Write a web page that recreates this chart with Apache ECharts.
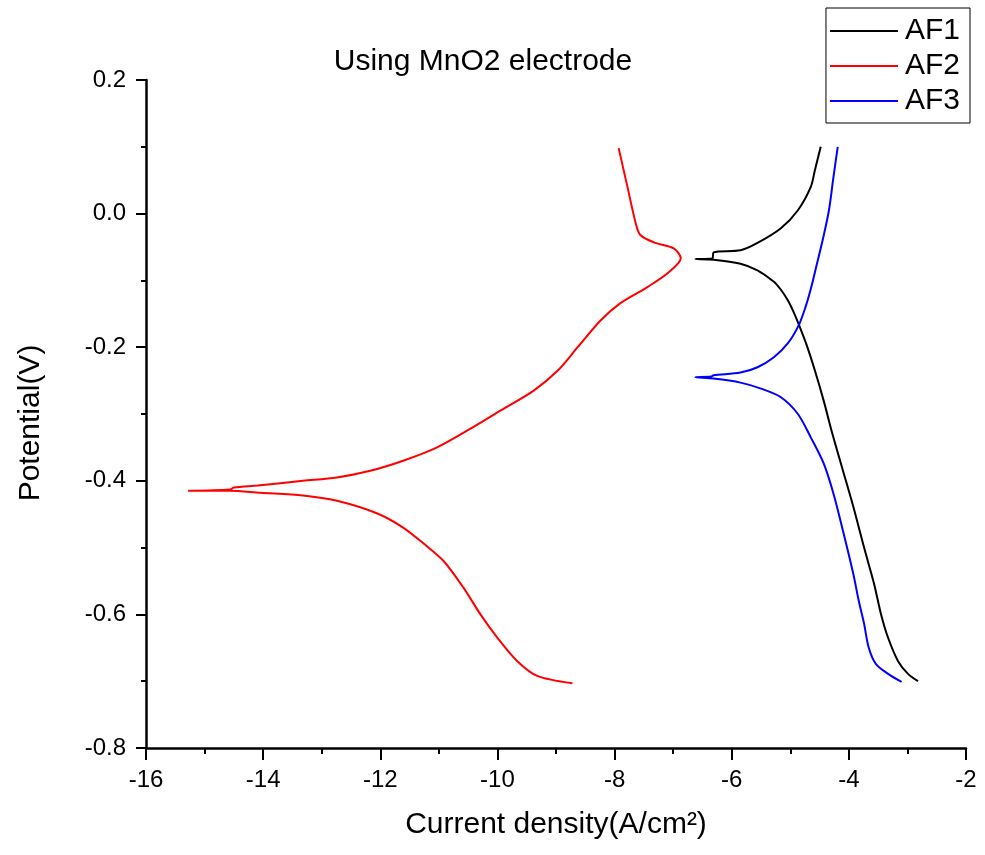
<!DOCTYPE html>
<html>
<head>
<meta charset="utf-8">
<script src="https://cdn.jsdelivr.net/npm/echarts@6/dist/echarts.min.js"></script>
<style>
html,body{margin:0;padding:0;background:#fff;}
#chart{width:985px;height:855px;}
</style>
</head>
<body>
<div id="chart"></div>
<script>
// Data: [current density (log A/cm2), potential (V)] in sweep order
var af1Data = [
  [-2.82,-0.700],[-2.99,-0.689],[-3.16,-0.670],[-3.33,-0.635],[-3.45,-0.600],[-3.57,-0.554],
  [-3.74,-0.500],[-3.92,-0.440],[-4.10,-0.385],[-4.28,-0.330],[-4.43,-0.280],[-4.58,-0.235],
  [-4.72,-0.197],[-4.85,-0.167],[-4.95,-0.146],[-5.04,-0.130],[-5.16,-0.114],[-5.28,-0.102],
  [-5.56,-0.085],[-5.85,-0.075],[-6.31,-0.069],[-6.62,-0.068],[-6.33,-0.067],[-6.31,-0.058],
  [-5.85,-0.055],[-5.56,-0.044],[-5.16,-0.022],[-4.87,0.005],[-4.65,0.040],[-4.58,0.065],
  [-4.48,0.100]
];
var af2Data = [
  [-8.72,-0.703],[-9.32,-0.692],[-9.66,-0.670],[-10.00,-0.635],[-10.29,-0.600],[-10.58,-0.560],
  [-10.92,-0.520],[-11.26,-0.494],[-11.61,-0.470],[-12.05,-0.449],[-12.74,-0.430],[-13.32,-0.422],
  [-14.05,-0.418],[-14.56,-0.415],[-15.28,-0.415],[-14.56,-0.413],[-14.50,-0.410],[-14.09,-0.407],
  [-13.32,-0.400],[-12.74,-0.395],[-12.17,-0.385],[-11.61,-0.370],[-11.03,-0.350],[-10.46,-0.322],
  [-9.95,-0.295],[-9.38,-0.265],[-8.97,-0.235],[-8.63,-0.200],[-8.24,-0.160],[-7.90,-0.134],
  [-7.44,-0.110],[-7.09,-0.089],[-6.87,-0.067],[-6.99,-0.052],[-7.33,-0.043],[-7.56,-0.032],
  [-7.64,-0.014],[-7.78,0.040],[-7.93,0.098]
];
var af3Data = [
  [-3.10,-0.701],[-3.33,-0.689],[-3.54,-0.674],[-3.66,-0.650],[-3.74,-0.614],[-3.83,-0.580],
  [-3.93,-0.537],[-4.10,-0.475],[-4.26,-0.420],[-4.43,-0.374],[-4.65,-0.335],[-4.87,-0.300],
  [-5.16,-0.275],[-5.50,-0.262],[-5.85,-0.253],[-6.31,-0.247],[-6.62,-0.245],[-6.35,-0.244],
  [-6.31,-0.242],[-5.85,-0.238],[-5.56,-0.230],[-5.28,-0.215],[-5.04,-0.194],[-4.855,-0.167],
  [-4.74,-0.140],[-4.65,-0.113],[-4.55,-0.077],[-4.44,-0.037],[-4.34,0.005],[-4.27,0.050],
  [-4.19,0.100]
];
var seriesNames = ['AF1','AF2','AF3'];
var seriesColors = ['#000000','#ff0000','#0000ff'];
var titleText = 'Using MnO2 electrode';
var xName = 'Current density(A/cm\u00B2)';
var yName = 'Potential(V)';

var font = '"Liberation Sans", Arial, sans-serif';
var chart = echarts.init(document.getElementById('chart'), null, {renderer:'canvas'});
function mk(name, data, color){
  return {
    name: name, type: 'line', data: data, symbol: 'none', showSymbol: false,
    smooth: 0.3,
    lineStyle: {color: color, width: 2}, itemStyle: {color: color},
    animation: false
  };
}
chart.setOption({
  animation: false,
  backgroundColor: '#fff',
  title: {
    text: titleText, left: 478, top: 42, textAlign: 'center',
    textStyle: {fontFamily: font, fontSize: 30, fontWeight: 'normal', color: '#000'}
  },
  legend: {
    orient: 'vertical', right: 15, top: 8,
    data: seriesNames,
    icon: 'rect',
    itemWidth: 68, itemHeight: 2, itemGap: 5,
    padding: [8, 10, 7, 4],
    borderColor: '#000', borderWidth: 1,
    textStyle: {fontFamily: font, fontSize: 30, color: '#000', padding: [0,0,0,2]}
  },
  grid: {left: 146, right: 19, top: 80, bottom: 107},
  xAxis: {
    type: 'value', min: -16, max: -2, interval: 2,
    name: xName, nameLocation: 'middle', nameGap: 62,
    nameTextStyle: {fontFamily: font, fontSize: 30, color: '#000'},
    axisLine: {show: true, onZero: false, lineStyle: {color: '#000', width: 2.5}},
    axisTick: {show: true, inside: false, length: 12, lineStyle: {color: '#000', width: 2}},
    minorTick: {show: true, splitNumber: 2, length: 6, lineStyle: {color: '#000', width: 2}},
    axisLabel: {fontFamily: font, fontSize: 24, color: '#000', margin: 20},
    splitLine: {show: false}
  },
  yAxis: {
    type: 'value', min: -0.8, max: 0.2, interval: 0.2,
    name: yName, nameLocation: 'middle', nameGap: 100,
    nameTextStyle: {fontFamily: font, fontSize: 30, color: '#000', padding: [0, 18, 0, 0]},
    axisLine: {show: true, onZero: false, lineStyle: {color: '#000', width: 2.5}},
    axisTick: {show: true, inside: false, length: 10, lineStyle: {color: '#000', width: 2}},
    minorTick: {show: true, splitNumber: 2, length: 5, lineStyle: {color: '#000', width: 2}},
    axisLabel: {fontFamily: font, fontSize: 24, color: '#000', margin: 20,
      formatter: function(v){ return v.toFixed(1); }},
    splitLine: {show: false}
  },
  series: [
    mk(seriesNames[0], af1Data, seriesColors[0]),
    mk(seriesNames[1], af2Data, seriesColors[1]),
    mk(seriesNames[2], af3Data, seriesColors[2])
  ]
});
</script>
</body>
</html>
